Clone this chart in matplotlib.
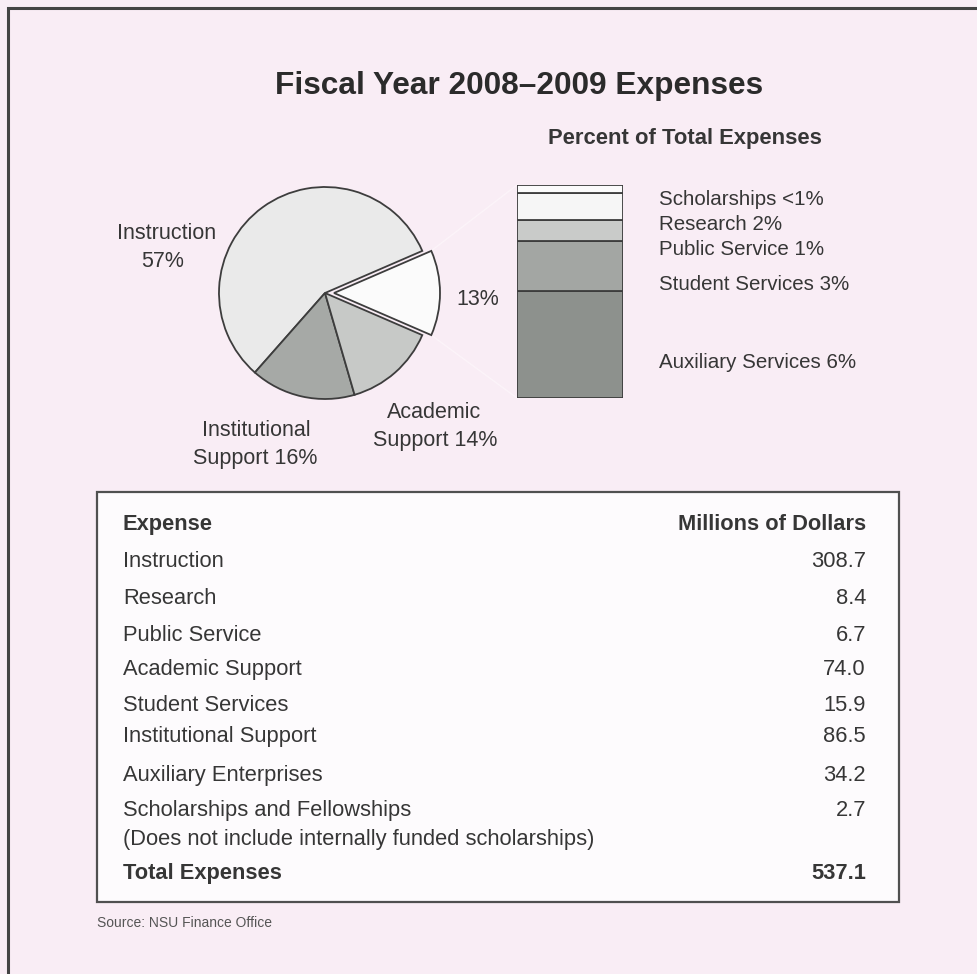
import matplotlib
matplotlib.use("Agg")
import matplotlib.pyplot as plt
from matplotlib.patches import Rectangle

plt.rcParams['font.family'] = ['Liberation Sans', 'DejaVu Sans']

# ---------------- data ----------------
title = "Fiscal Year 2008\u20132009 Expenses"
bar_title = "Percent of Total Expenses"

pie_names = ["", "Instruction", "Institutional\nSupport", "Academic\nSupport"]
pie_pct = [13, 57, 16, 14]

bar_names = ["Auxiliary Services", "Student Services", "Public Service", "Research", "Scholarships"]
bar_vals = [34.2, 15.9, 6.7, 8.4, 2.7]
bar_pct_labels = ["6%", "3%", "1%", "2%", "<1%"]

table_items = ["Instruction", "Research", "Public Service", "Academic Support",
               "Student Services", "Institutional Support", "Auxiliary Enterprises",
               "Scholarships and Fellowships\n(Does not include internally funded scholarships)"]
table_vals = [308.7, 8.4, 6.7, 74.0, 15.9, 86.5, 34.2, 2.7]
total_label = "Total Expenses"
total_val = 537.1
col_headers = ["Expense", "Millions of Dollars"]
source = "Source: NSU Finance Office"

# ---------------- style ----------------
W, H = 977, 974
BG = "#f9edf5"
TXT = "#363636"
EDGE = "#3d3d3d"
pie_colors = ["#fbfbfb", "#eaeaea", "#a6a9a6", "#c7c9c7"]
bar_colors = ["#8d918d", "#a3a6a3", "#c9cbc9", "#f6f6f6", "#fbfbfb"]
FS = 15.5
FS_BAR = 14.8
FS_TAB = 15.75

fig = plt.figure(figsize=(W / 100, H / 100), dpi=100)
fig.patch.set_facecolor(BG)

ax = fig.add_axes([0, 0, 1, 1])
ax.set_xlim(0, W)
ax.set_ylim(H, 0)
ax.axis("off")

# outer frame (left and top visible)
ax.plot([8, 8, W + 5], [H + 5, 8, 8], color="#444444", lw=2.2, solid_joinstyle="miter")

# title
ax.text(519, 94, title, ha="center", va="baseline", fontsize=22.8,
        fontweight="bold", color="#2b2b2b")
ax.text(685, 144, bar_title, ha="center", va="baseline", fontsize=15.8,
        fontweight="bold", color=TXT)

# ---------------- pie ----------------
cx, cy, R, S = 325, 293, 106, 150
pax = fig.add_axes([(cx - S) / W, (H - cy - S) / H, 2 * S / W, 2 * S / H])
start = -pie_pct[0] * 3.6 / 2
pax.pie(pie_pct, radius=R, center=(0, 0), startangle=start, counterclock=True,
        explode=[9, 0, 0, 0], colors=pie_colors,
        wedgeprops=dict(edgecolor=EDGE, linewidth=1.3))
pax.set_xlim(-S, S)
pax.set_ylim(-S, S)
pax.axis("off")

# pie labels
ax.text(167, 239, pie_names[1], ha="center", va="baseline", fontsize=FS, color=TXT)
ax.text(163, 267, f"{pie_pct[1]}%", ha="center", va="baseline", fontsize=FS, color=TXT)
ax.text(478, 305, f"{pie_pct[0]}%", ha="center", va="baseline", fontsize=FS, color=TXT)
inst = pie_names[2].split("\n")
ax.text(256, 436, inst[0], ha="center", va="baseline", fontsize=FS, color=TXT)
ax.text(255, 464, f"{inst[1]} {pie_pct[2]}%", ha="center", va="baseline", fontsize=FS, color=TXT)
acad = pie_names[3].split("\n")
ax.text(434, 418, acad[0], ha="center", va="baseline", fontsize=FS, color=TXT)
ax.text(435, 446, f"{acad[1]} {pie_pct[3]}%", ha="center", va="baseline", fontsize=FS, color=TXT)

# faint connector lines from exploded slice to bar
ax.plot([431, 517], [251, 185], color="#fcf4f9", lw=1.0)
ax.plot([431, 517], [335, 398], color="#fcf4f9", lw=1.0)

# ---------------- stacked bar ----------------
bx, btop, bw, bbot = 517, 185, 106, 398
bax = fig.add_axes([bx / W, (H - bbot) / H, bw / W, (bbot - btop) / H])
bottom = 0
for v, c in zip(bar_vals, bar_colors):
    bax.bar(0, v, width=1.0, bottom=bottom, color=c, edgecolor=EDGE, linewidth=1.3)
    bottom += v
bax.set_xlim(-0.5, 0.5)
bax.set_ylim(0, sum(bar_vals))
bax.axis("off")

bar_label_y = [361, 283, 248, 223, 198]
for name, lab, y in zip(bar_names, bar_pct_labels, bar_label_y):
    ax.text(659, y + 7.3, f"{name} {lab}", ha="left", va="baseline", fontsize=FS_BAR, color=TXT)

# ---------------- table ----------------
tl, tt, tr, tb = 97, 492, 899, 902
ax.add_patch(Rectangle((tl, tt), tr - tl, tb - tt, facecolor="#fdfbfd",
                       edgecolor="#505050", lw=1.6, zorder=1))
xl, xr = 123, 866
off = 7.9
ax.text(xl, 522 + off, col_headers[0], ha="left", va="baseline", fontsize=FS_TAB,
        fontweight="bold", color=TXT)
ax.text(xr, 522 + off, col_headers[1], ha="right", va="baseline", fontsize=FS_TAB,
        fontweight="bold", color=TXT)
row_y = [559, 596, 633, 667, 703, 734, 773, 808]
for item, val, y in zip(table_items, table_vals, row_y):
    for i, line in enumerate(item.split("\n")):
        ax.text(xl, y + off + i * 29, line, ha="left", va="baseline", fontsize=FS_TAB, color=TXT)
    ax.text(xr, y + off, f"{val:.1f}", ha="right", va="baseline", fontsize=FS_TAB, color=TXT)
ax.text(xl, 871 + off, total_label, ha="left", va="baseline", fontsize=FS_TAB,
        fontweight="bold", color=TXT)
ax.text(xr, 871 + off, f"{total_val:.1f}", ha="right", va="baseline", fontsize=FS_TAB,
        fontweight="bold", color=TXT)

# source
ax.text(97, 927, source, ha="left", va="baseline", fontsize=10,
        color="#555555")

fig.savefig("out.png", dpi=100, facecolor=BG)
